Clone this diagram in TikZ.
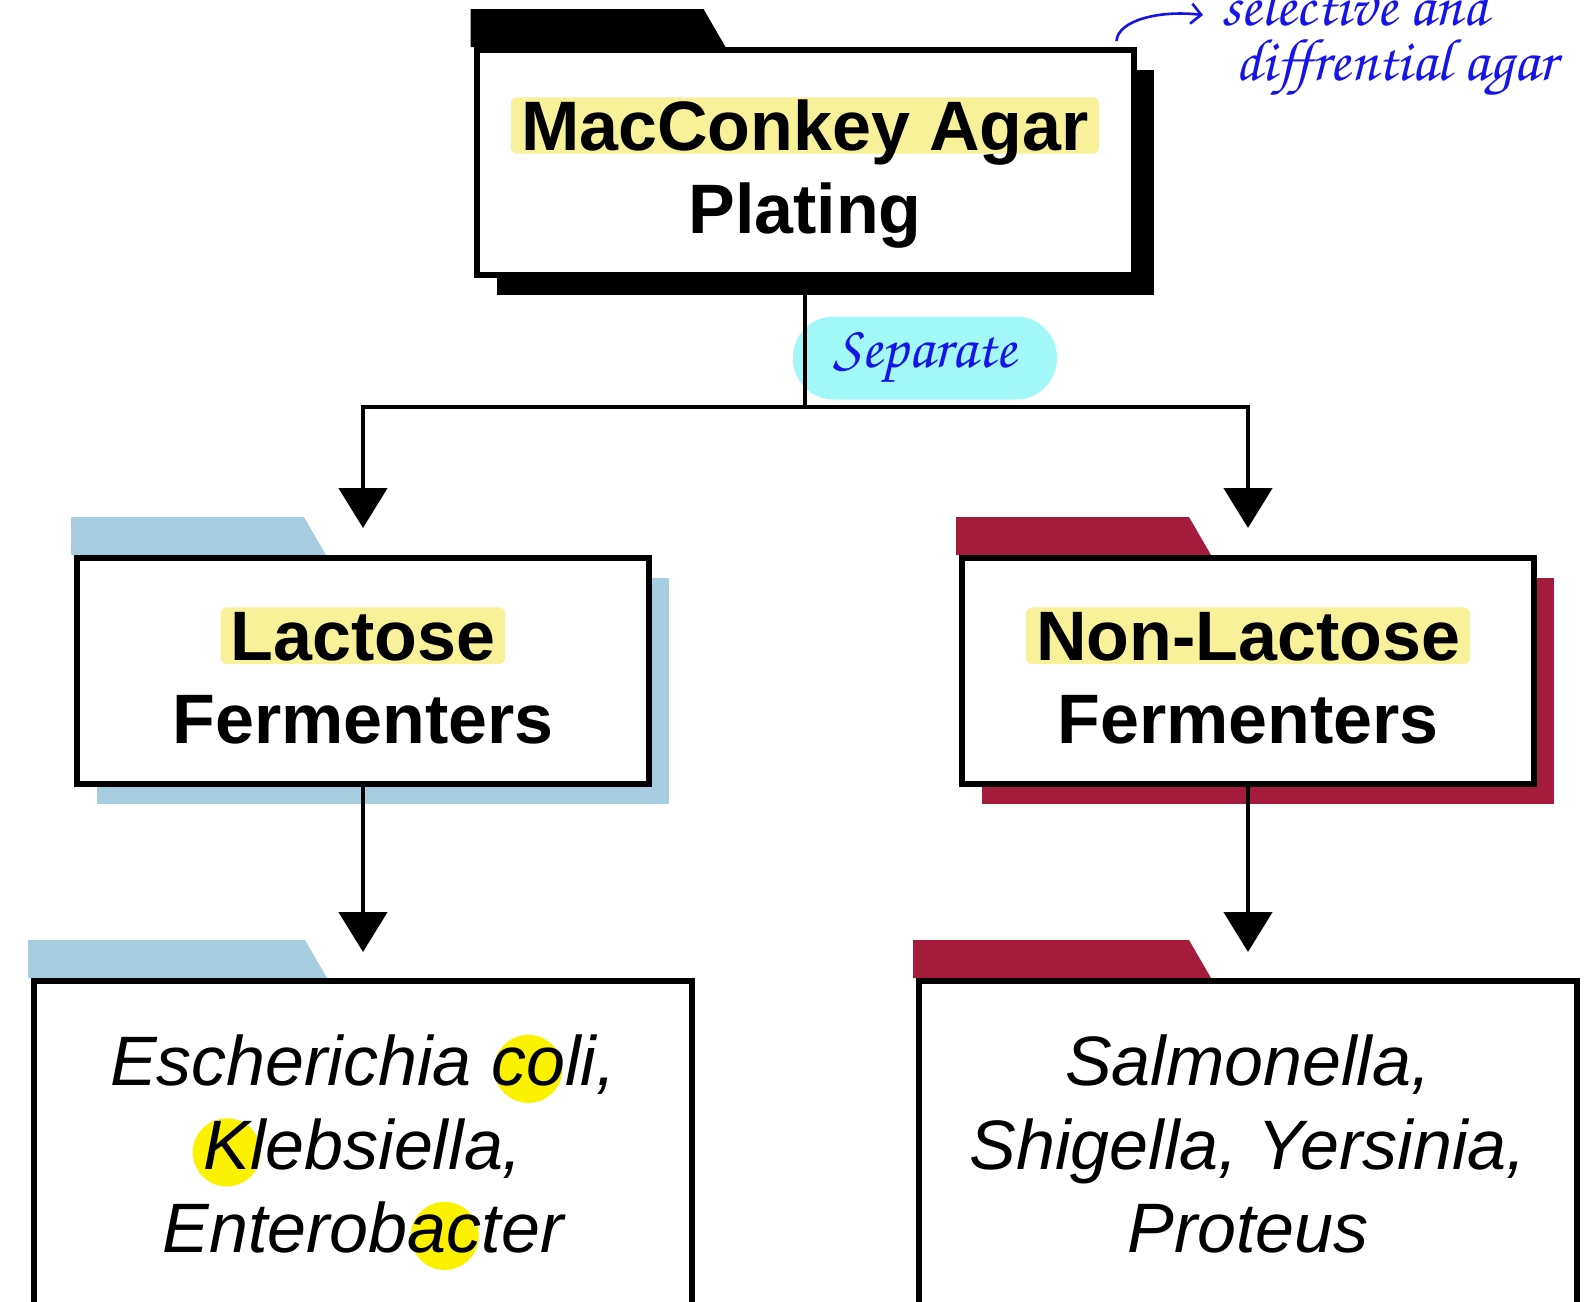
\documentclass[tikz,border=0pt]{standalone}
\usepackage{fontspec}
\setmainfont{Liberation Sans}
\usetikzlibrary{positioning,arrows.meta,shadows,backgrounds}

\definecolor{hlyellow}{HTML}{F7F19A}
\definecolor{dotyellow}{HTML}{FCF200}
\definecolor{lacblue}{HTML}{A6CEE0}
\definecolor{nlcrimson}{HTML}{A51B3B}
\definecolor{sepcyan}{HTML}{A2F7F7}
\definecolor{handblue}{HTML}{1515E8}

\tikzset{inline/.style={anchor=base,draw=none,minimum width=0pt,minimum height=0pt,inner sep=0pt}}
\newcommand{\handfont}{\fontencoding{OT1}\fontfamily{pzc}\fontseries{mb}\fontshape{it}}
\newcommand{\hlt}[1]{\tikz[baseline=0pt]\node[inline,fill=hlyellow,rounded corners=3pt,inner xsep=5pt,inner ysep=1.5pt,text height=25.2pt,text depth=0pt]{#1};}
\newcommand{\blob}[1]{\tikz[baseline=0pt]{\fill[dotyellow,overlay] (0pt,8.5pt) circle (17pt); \node[inline,fill=none] at (0pt,0pt) {#1};}}
\newcommand{\lastline}[2]{\raisebox{0pt}[\height][#1]{#2}}
\newcommand{\topgap}[1]{\rule{0pt}{#1}}

\begin{document}
\begin{tikzpicture}[x=0.5pt,y=-0.5pt,
		mainbox/.style={draw,line width=3pt,fill=white,align=center,inner sep=0pt,
			font=\bfseries\fontsize{35}{41.5}\selectfont},
		groupbox/.style={mainbox,minimum width=286pt,minimum height=113pt},
		listbox/.style={mainbox,minimum width=329pt,minimum height=168pt,anchor=north,
			font=\itshape\fontsize{35}{41.75}\selectfont},
		flow/.style={line width=2.4pt,-{Triangle[width=24pt,length=20pt]}},
		hand/.style={text=handblue,inner sep=0pt,font=\handfont\fontsize{30}{32}\selectfont}]
	\useasboundingbox (0,0) rectangle (1586,1302);

	\node[mainbox,minimum width=328.5pt,minimum height=112.5pt,
		drop shadow={shadow xshift=10pt,shadow yshift=-10pt,fill=black,opacity=1}]
		(plate) at (805,162.5) {\topgap{29.7pt}\hlt{MacConkey Agar}\\\lastline{0pt}{Plating}};
	\node[groupbox,drop shadow={shadow xshift=10pt,shadow yshift=-10pt,fill=lacblue,opacity=1}]
		(lac) at (363,671) {\topgap{31.7pt}\hlt{Lactose}\\Fermenters};
	\node[groupbox,drop shadow={shadow xshift=10pt,shadow yshift=-10pt,fill=nlcrimson,opacity=1}]
		(nonlac) at (1248,671) {\topgap{31.7pt}\hlt{Non-Lactose}\\Fermenters};
	\node[listbox] (lacbugs) at (363,978)
		{Escherichia \blob{co}li,\\\blob{K}lebsiella,\\\lastline{5pt}{Enterob\blob{ac}ter}};
	\node[listbox] (nonlacbugs) at (1248,978)
		{Salmonella,\\Shigella, Yersinia,\\\lastline{5pt}{Proteus}};

	\begin{scope}[on background layer]
		\fill[white] (0,0) rectangle (1586,1302);
		\foreach \n/\c/\w in {plate/black/116.5pt,lac/lacblue/116.5pt,nonlac/nlcrimson/116.5pt,
			lacbugs/lacblue/138.5pt,nonlacbugs/nlcrimson/138pt}
			\fill[\c] ([xshift=-1.5pt]\n.north west) -- ++(0pt,19pt) -- ++(\w,0pt)
				-- ([xshift=\w+9.5pt]\n.north west) -- cycle;
	\end{scope}

	\node[hand,fill=sepcyan,rounded corners=20.5pt,minimum width=132pt,minimum height=41.5pt]
		(sep) at (925,358) {Separate};

	\coordinate (split) at (805,407);
	\draw[line width=2.4pt] (plate.south) -- (split);
	\draw[flow] (split) -| ([yshift=13.5pt]lac.north);
	\draw[flow] (split) -| ([yshift=13.5pt]nonlac.north);
	\draw[flow] (lac.south) -- ([yshift=13pt]lacbugs.north);
	\draw[flow] (nonlac.south) -- ([yshift=13pt]nonlacbugs.north);

	\node[hand,anchor=base west] (note1) at (1221,25) {selective and};
	\node[hand,anchor=base west] (note2) at (1235,80) {diffrential agar};
	\coordinate (tail) at ([xshift=-10pt,yshift=3pt]plate.north east);
	\draw[handblue,line width=1.3pt,-{Straight Barb[length=5pt,width=10pt]}]
		(tail) .. controls (1118,20) and (1160,10) .. ([xshift=-9pt,yshift=5pt]note1.base west);
\end{tikzpicture}
\end{document}
